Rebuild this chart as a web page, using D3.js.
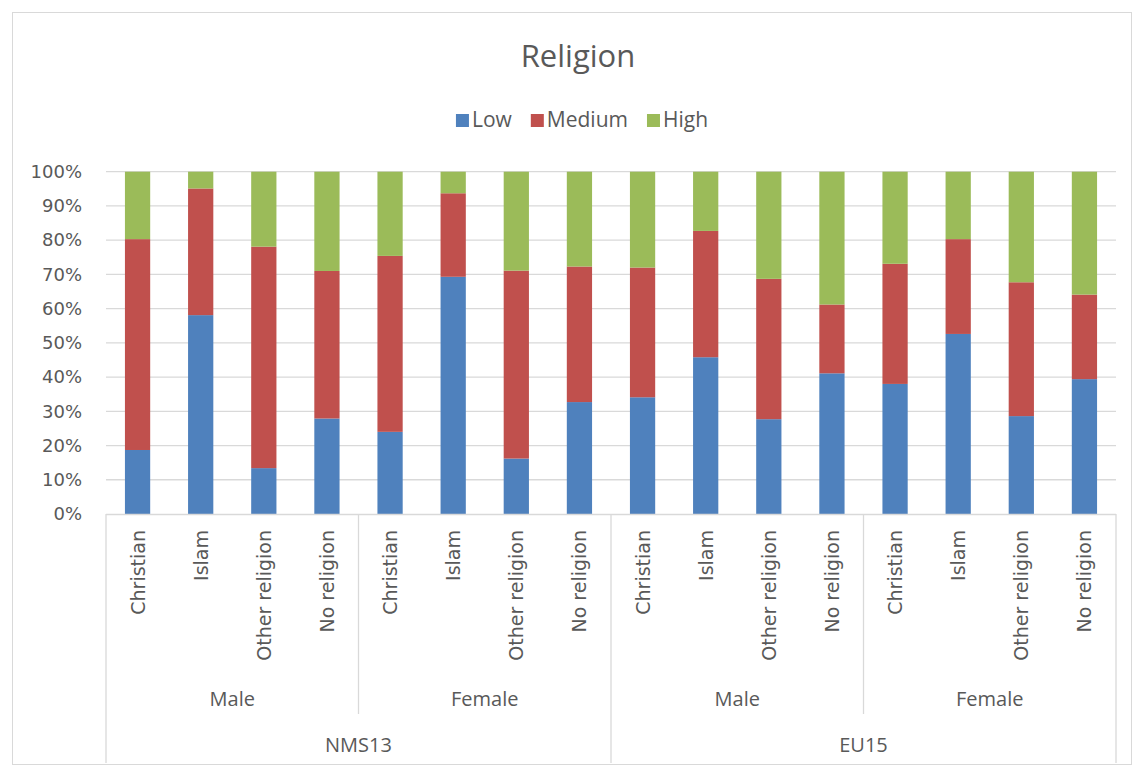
<!DOCTYPE html>
<html>
<head>
<meta charset="utf-8">
<script src="https://cdn.jsdelivr.net/npm/d3@7"></script>
<style>
  body { margin: 0; background: #fff; }
  text { fill: #595959; }
</style>
</head>
<body>
<div id="chart"></div>
<script>
const regions = ["NMS13", "EU15"];
const genders = ["Male", "Female"];
const religions = ["Christian", "Islam", "Other religion", "No religion"];
const levels = ["Low", "Medium", "High"];
const colors = ["#4f81bd", "#c0504d", "#9bbb59"];

// shares in %, order: NMS13 Male, NMS13 Female, EU15 Male, EU15 Female (4 religions each)
const low    = [18.7, 58.1, 13.4, 27.9, 24.0, 69.3, 16.2, 32.7, 34.1, 45.8, 27.7, 41.1, 38.0, 52.6, 28.6, 39.4];
const medium = [61.6, 37.0, 64.7, 43.1, 51.4, 24.4, 54.9, 39.6, 37.9, 36.9, 41.0, 20.1, 35.1, 27.7, 39.1, 24.7];
const high   = [19.7, 4.9, 21.9, 29.0, 24.6, 6.3, 28.9, 27.7, 28.0, 17.3, 31.3, 38.8, 26.9, 19.7, 32.3, 35.9];

const W = 1137, H = 767;
const plot = { left: 106, right: 1116, top: 171.7, bottom: 514 };

const rows = [];
regions.forEach((r, ri) => genders.forEach((g, gi) => religions.forEach((rel, k) => {
    const i = rows.length;
    rows.push({ i, region: r, gender: g, religion: rel, Low: low[i], Medium: medium[i], High: high[i] });
})));

const svg = d3.select("#chart").append("svg")
    .attr("width", W).attr("height", H);

// chart border
svg.append("rect")
    .attr("x", 12.5).attr("y", 12.5)
    .attr("width", 1119).attr("height", 752)
    .attr("fill", "none").attr("stroke", "#d9d9d9");

const x = d3.scaleBand()
    .domain(rows.map(d => d.i))
    .range([plot.left, plot.right])
    .paddingInner(0.6).paddingOuter(0.3);

const y = d3.scaleLinear().domain([0, 100]).range([plot.bottom, plot.top]);

// gridlines
svg.append("g").selectAll("line")
    .data(d3.range(10, 101, 10))
    .join("line")
    .attr("x1", plot.left).attr("x2", plot.right)
    .attr("y1", d => y(d)).attr("y2", d => y(d))
    .attr("stroke", "#d9d9d9").attr("stroke-width", 1.3);

// y axis
const yAxis = svg.append("g")
    .attr("transform", `translate(${plot.left},0)`)
    .call(d3.axisLeft(y).tickValues(d3.range(0, 101, 10)).tickSize(0).tickPadding(24)
        .tickFormat(d => d + "%"));
yAxis.select(".domain").remove();
yAxis.selectAll("text")
    .style("font-family", "DejaVu Sans").style("font-size", "18px").attr("fill", "#595959");

// bars
const series = d3.stack().keys(levels)(rows);
svg.append("g").selectAll("g")
    .data(series)
    .join("g")
    .attr("fill", (d, i) => colors[i])
    .selectAll("rect")
    .data(d => d)
    .join("rect")
    .attr("x", d => x(d.data.i))
    .attr("width", x.bandwidth())
    .attr("y", d => y(d[1]))
    .attr("height", d => y(d[0]) - y(d[1]));

// category axis line
svg.append("line")
    .attr("x1", plot.left).attr("x2", plot.right)
    .attr("y1", plot.bottom + 0.5).attr("y2", plot.bottom + 0.5)
    .attr("stroke", "#d9d9d9").attr("stroke-width", 1.3);

const step = x.step();
const edge = i => x.range()[0] + i * step;

// religion labels (rotated)
svg.append("g").selectAll("text")
    .data(rows)
    .join("text")
    .attr("transform", d => `translate(${x(d.i) + x.bandwidth() / 2 + 7},530) rotate(-90)`)
    .attr("text-anchor", "end")
    .style("font-family", "DejaVu Sans").style("font-size", "19px")
    .text(d => d.religion);

// separators
const seps = [0, 4, 8, 12, 16];
svg.append("g").selectAll("line")
    .data(seps)
    .join("line")
    .attr("x1", d => edge(d)).attr("x2", d => edge(d))
    .attr("y1", plot.bottom).attr("y2", d => d % 8 === 0 ? 763 : 714)
    .attr("stroke", "#d9d9d9").attr("stroke-width", 1.3);

// gender labels
const genderGroups = [];
regions.forEach((r, ri) => genders.forEach((g, gi) => genderGroups.push({ g, start: (ri * 2 + gi) * 4 })));
svg.append("g").selectAll("text")
    .data(genderGroups)
    .join("text")
    .attr("x", d => (edge(d.start) + edge(d.start + 4)) / 2)
    .attr("y", 706)
    .attr("text-anchor", "middle")
    .style("font-family", "Open Sans").style("font-size", "20px")
    .text(d => d.g);

// region labels
svg.append("g").selectAll("text")
    .data(regions)
    .join("text")
    .attr("x", (d, i) => (edge(i * 8) + edge(i * 8 + 8)) / 2)
    .attr("y", 752)
    .attr("text-anchor", "middle")
    .style("font-family", "Open Sans").style("font-size", "20px")
    .text(d => d);

// title
svg.append("text")
    .attr("x", 578).attr("y", 67)
    .attr("text-anchor", "middle")
    .style("font-family", "Open Sans").style("font-size", "31px")
    .text("Religion");

// legend
const legend = svg.append("g");
const items = legend.selectAll("g").data(levels).join("g");
items.append("rect")
    .attr("width", 13).attr("height", 13).attr("y", 114)
    .attr("fill", (d, i) => colors[i]);
items.append("text")
    .attr("x", 16).attr("y", 126.5)
    .style("font-family", "Open Sans").style("font-size", "21px")
    .text(d => d);
let cx = 0;
const gap = 19;
items.each(function () {
    const w = 16 + d3.select(this).select("text").node().getComputedTextLength();
    d3.select(this).attr("data-x", cx);
    cx += w + gap;
});
const total = cx - gap;
items.attr("transform", function () {
    return `translate(${582 - total / 2 + (+d3.select(this).attr("data-x"))},0)`;
});
</script>
</body>
</html>
